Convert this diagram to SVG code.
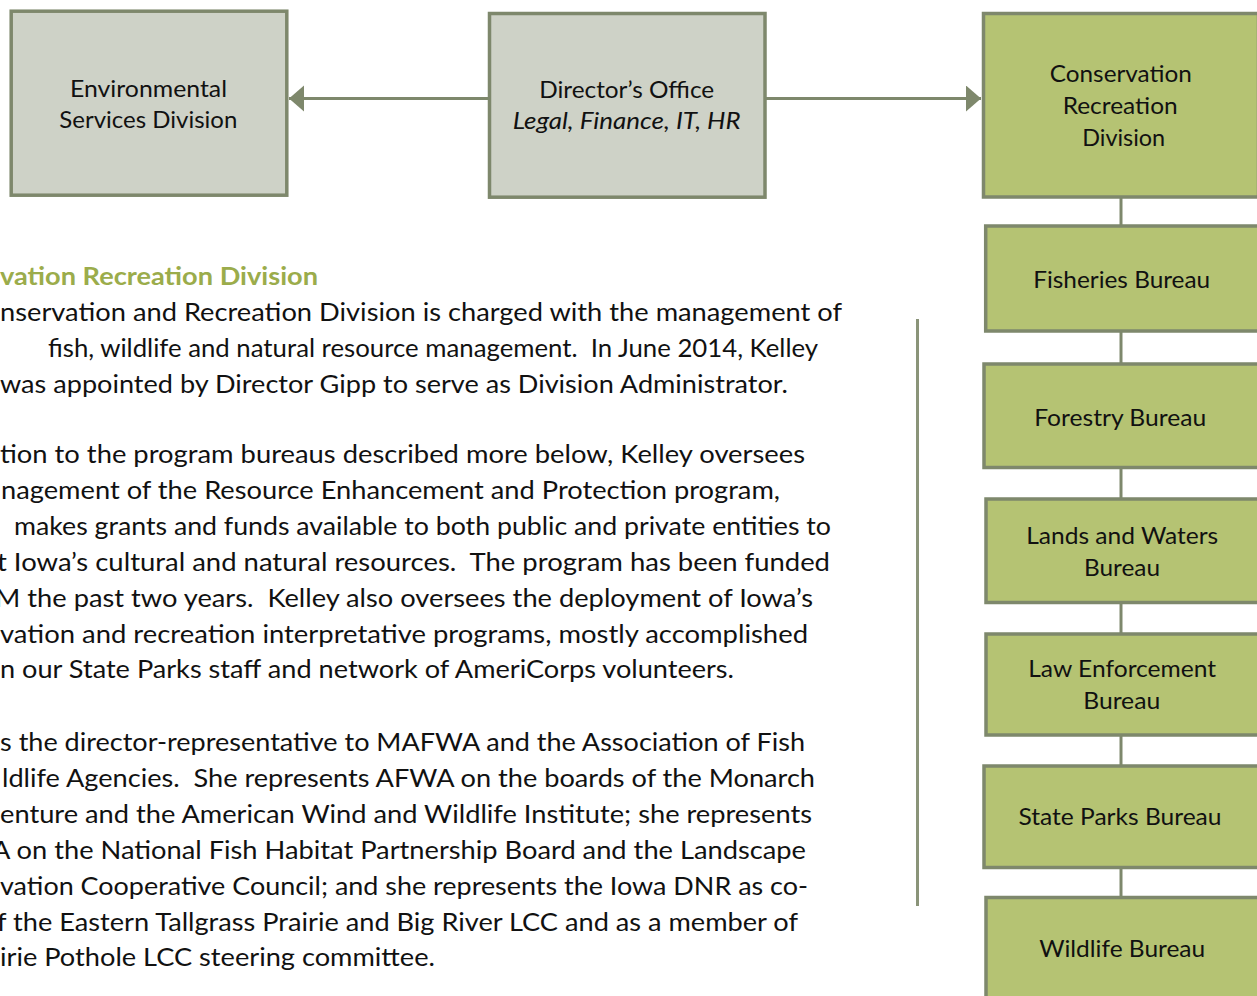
<svg xmlns="http://www.w3.org/2000/svg" width="1257" height="996" viewBox="0 0 1257 996">
  <style>
    .box-gray { fill: #ced2c7; stroke: #7e886c; stroke-width: 3.5; }
    .box-green { fill: #b5c373; stroke: #7e886c; stroke-width: 3.5; }
    .label { font-family: Lato, "Liberation Sans", sans-serif; font-size: 23px; fill: #111; text-anchor: middle; }
    .body { font-family: Lato, "Liberation Sans", sans-serif; font-size: 25px; fill: #111; white-space: pre; }
    .heading { font-family: Lato, "Liberation Sans", sans-serif; font-size: 25px; font-weight: bold; fill: #9bac4b; }
    .link { stroke: #7e886c; stroke-width: 3; fill: none; }
    .rule { stroke: #8a9479; stroke-width: 3; }
  </style>
  <defs>
    <marker id="arrow" markerUnits="userSpaceOnUse" markerWidth="16" markerHeight="28" refX="15" refY="13" orient="auto">
      <path d="M0,0 L15,13 L0,26 Z" fill="#7e886c"/>
    </marker>
  </defs>

  <rect width="1257" height="996" fill="#ffffff"/>

  <!-- connectors -->
  <g id="connectors">
    <line class="link" x1="488" y1="98.5" x2="289" y2="98.5" marker-end="url(#arrow)"/>
    <line class="link" x1="766" y1="98.5" x2="981" y2="98.5" marker-end="url(#arrow)"/>
    <line class="link" x1="1121" y1="198" x2="1121" y2="225"/>
    <line class="link" x1="1121" y1="332" x2="1121" y2="363"/>
    <line class="link" x1="1121" y1="469" x2="1121" y2="498"/>
    <line class="link" x1="1121" y1="604" x2="1121" y2="633"/>
    <line class="link" x1="1121" y1="736" x2="1121" y2="765"/>
    <line class="link" x1="1121" y1="868" x2="1121" y2="896"/>
  </g>

  <!-- top row -->
  <g id="environmental-services">
    <rect class="box-gray" x="11.2" y="11.2" width="275.6" height="184"/>
    <text class="label" x="148.5" y="96.7" textLength="157" lengthAdjust="spacingAndGlyphs">Environmental</text>
    <text class="label" x="148.3" y="128.3" textLength="178" lengthAdjust="spacingAndGlyphs">Services Division</text>
  </g>
  <g id="directors-office">
    <rect class="box-gray" x="489.5" y="13.5" width="275.5" height="183.7"/>
    <text class="label" x="626.7" y="98.3" textLength="175" lengthAdjust="spacingAndGlyphs">Director’s Office</text>
    <text class="label" x="626.7" y="129.3" textLength="228" lengthAdjust="spacingAndGlyphs" font-style="italic">Legal, Finance, IT, HR</text>
  </g>
  <g id="conservation-recreation">
    <rect class="box-green" x="983.5" y="13.5" width="275" height="183.5"/>
    <text class="label" x="1120.8" y="81.7" textLength="142" lengthAdjust="spacingAndGlyphs">Conservation</text>
    <text class="label" x="1120.2" y="114.3" textLength="115" lengthAdjust="spacingAndGlyphs">Recreation</text>
    <text class="label" x="1123.7" y="146" textLength="83" lengthAdjust="spacingAndGlyphs">Division</text>
  </g>

  <!-- bureaus -->
  <g id="fisheries">
    <rect class="box-green" x="985.7" y="226" width="275" height="105"/>
    <text class="label" x="1121.7" y="287.7" textLength="177" lengthAdjust="spacingAndGlyphs">Fisheries Bureau</text>
  </g>
  <g id="forestry">
    <rect class="box-green" x="984" y="364" width="275" height="103.5"/>
    <text class="label" x="1120.2" y="425.7" textLength="172" lengthAdjust="spacingAndGlyphs">Forestry Bureau</text>
  </g>
  <g id="lands-waters">
    <rect class="box-green" x="986" y="499" width="275" height="103.5"/>
    <text class="label" x="1122.2" y="544.3" textLength="192" lengthAdjust="spacingAndGlyphs">Lands and Waters</text>
    <text class="label" x="1122" y="576" textLength="76" lengthAdjust="spacingAndGlyphs">Bureau</text>
  </g>
  <g id="law-enforcement">
    <rect class="box-green" x="986" y="634" width="275" height="101"/>
    <text class="label" x="1122.2" y="676.7" textLength="188" lengthAdjust="spacingAndGlyphs">Law Enforcement</text>
    <text class="label" x="1121.7" y="709.3" textLength="77" lengthAdjust="spacingAndGlyphs">Bureau</text>
  </g>
  <g id="state-parks">
    <rect class="box-green" x="984" y="766" width="275" height="101.5"/>
    <text class="label" x="1120" y="825" textLength="203" lengthAdjust="spacingAndGlyphs">State Parks Bureau</text>
  </g>
  <g id="wildlife">
    <rect class="box-green" x="986" y="897.5" width="275" height="110"/>
    <text class="label" x="1122.2" y="957.3" textLength="166" lengthAdjust="spacingAndGlyphs">Wildlife Bureau</text>
  </g>

  <!-- side rule -->
  <line class="rule" x1="917.5" y1="319" x2="917.5" y2="906"/>

  <!-- description text -->
  <g id="description">
    <text class="heading" x="0" y="285" textLength="318" lengthAdjust="spacingAndGlyphs">vation Recreation Division</text>
    <text class="body" x="0" y="320.7" textLength="842" lengthAdjust="spacingAndGlyphs">nservation and Recreation Division is charged with the management of</text>
    <text class="body" x="48" y="356.6" textLength="770" lengthAdjust="spacingAndGlyphs">fish, wildlife and natural resource management.  In June 2014, Kelley</text>
    <text class="body" x="0" y="392.5" textLength="788" lengthAdjust="spacingAndGlyphs">was appointed by Director Gipp to serve as Division Administrator.</text>

    <text class="body" x="0" y="463.3" textLength="805" lengthAdjust="spacingAndGlyphs">tion to the program bureaus described more below, Kelley oversees</text>
    <text class="body" x="1" y="499.1" textLength="779" lengthAdjust="spacingAndGlyphs">nagement of the Resource Enhancement and Protection program,</text>
    <text class="body" x="14" y="535" textLength="817" lengthAdjust="spacingAndGlyphs">makes grants and funds available to both public and private entities to</text>
    <text class="body" x="-3" y="570.8" textLength="833" lengthAdjust="spacingAndGlyphs">t Iowa’s cultural and natural resources.  The program has been funded</text>
    <text class="body" x="-5" y="606.6" textLength="818" lengthAdjust="spacingAndGlyphs">M the past two years.  Kelley also oversees the deployment of Iowa’s</text>
    <text class="body" x="0" y="642.5" textLength="808" lengthAdjust="spacingAndGlyphs">vation and recreation interpretative programs, mostly accomplished</text>
    <text class="body" x="0" y="678.3" textLength="734" lengthAdjust="spacingAndGlyphs">n our State Parks staff and network of AmeriCorps volunteers.</text>

    <text class="body" x="0" y="751" textLength="805" lengthAdjust="spacingAndGlyphs">s the director-representative to MAFWA and the Association of Fish</text>
    <text class="body" x="2" y="786.9" textLength="813" lengthAdjust="spacingAndGlyphs">ldlife Agencies.  She represents AFWA on the boards of the Monarch</text>
    <text class="body" x="0" y="822.8" textLength="812" lengthAdjust="spacingAndGlyphs">enture and the American Wind and Wildlife Institute; she represents</text>
    <text class="body" x="-8" y="858.7" textLength="814" lengthAdjust="spacingAndGlyphs">A on the National Fish Habitat Partnership Board and the Landscape</text>
    <text class="body" x="0" y="894.6" textLength="808" lengthAdjust="spacingAndGlyphs">vation Cooperative Council; and she represents the Iowa DNR as co-</text>
    <text class="body" x="-3" y="930.5" textLength="801" lengthAdjust="spacingAndGlyphs">f the Eastern Tallgrass Prairie and Big River LCC and as a member of</text>
    <text class="body" x="0" y="966.4" textLength="435" lengthAdjust="spacingAndGlyphs">irie Pothole LCC steering committee.</text>
  </g>
</svg>
